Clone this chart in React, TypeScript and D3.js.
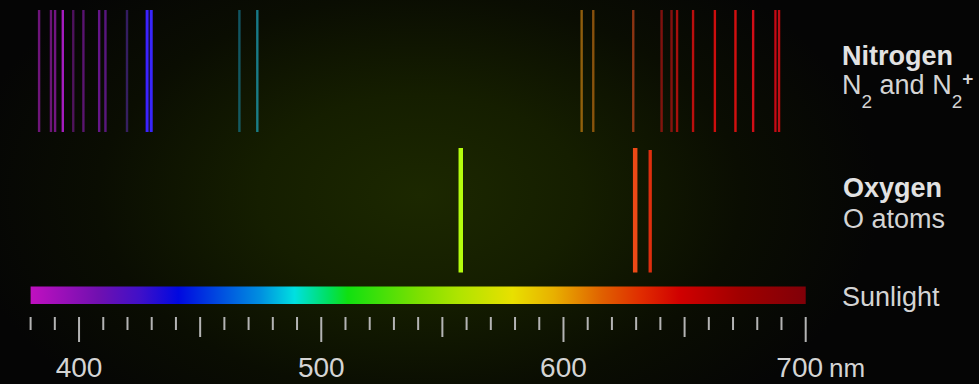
import React from "react";
import * as d3 from "d3";

// ---- data ----
const nitrogenWavelengths = [383.5, 388.4, 390.1, 393.3, 397.6, 401.8, 408.3, 410.9, 419.8, 428.1, 429.8, 466.2, 473.6, 607.5, 612.3, 628.8, 640.5, 644.6, 646.9, 653.5, 662.5, 671.0, 678.3, 687.5, 689.0];
const nitrogenIntensity = [0.6, 0.55, 0.6, 0.85, 0.4, 0.5, 0.65, 0.6, 0.45, 1, 1, 0.55, 0.7, 0.7, 0.65, 0.65, 0.6, 0.6, 0.75, 0.8, 0.85, 0.9, 0.9, 0.85, 0.85];
const oxygenWavelengths = [557.6, 629.6, 635.8];
const oxygenIntensity = [1, 1, 0.6];
const tickValues = d3.range(380, 701, 10);
const tickLabels = [400, 500, 600, 700];
const rowLabels = ["Nitrogen", "Oxygen", "Sunlight"];

// spectrum colour scale (style)
const specStops: [number, string][] = [
  [380, "#c010c0"], [408, "#7010b0"], [425, "#4010c8"], [441, "#0008e0"],
  [463, "#0060e0"], [475, "#0090e0"], [489, "#00e0e0"], [503, "#00e060"],
  [511, "#10e010"], [541, "#80e000"], [557, "#b0e400"], [579, "#e8e000"], [596, "#e8b000"],
  [616, "#e06000"], [632, "#e02c00"], [648, "#d00000"], [673, "#a00000"], [700, "#800008"],
];
// emission-line colour scale (style)
const lineStops: [number, string][] = [
  [380, "#b020c0"], [394, "#c020e0"], [411, "#9020d0"], [420, "#6a30d0"], [428, "#3a20ff"],
  [466, "#1a90b0"], [474, "#20a8c0"], [557, "#b4ff10"], [607, "#c88010"], [629, "#d04a18"],
  [630, "#ff4a10"], [636, "#f03012"], [640, "#d01818"], [660, "#f01010"], [690, "#e00818"],
];

const W = 979;
const H = 384;

export default function App() {
  const x = d3.scaleLinear().domain([380, 700]).range([30.6, 805.7]);
  const lineCol = d3
    .scaleLinear<string>()
    .domain(lineStops.map((d) => d[0]))
    .range(lineStops.map((d) => d[1]))
    .interpolate(d3.interpolateRgb)
    .clamp(true);
  const tickLen = (v: number) => (v % 100 === 0 ? 25 : v % 50 === 0 ? 20 : 13);
  const oxyWidth = d3.scaleLinear().domain([0, 1]).range([1.5, 4.5]);
  const [x0, x1] = x.range();
  const font = "'Liberation Sans', Arial, sans-serif";
  const textCol = "#d4d4d4";

  return (
    <div style={{ position: "fixed", left: 0, top: 0, width: W, height: H, overflow: "hidden" }}>
      <svg width={W} height={H} style={{ display: "block" }}>
        <defs>
          <radialGradient id="glow" gradientUnits="userSpaceOnUse" cx={420} cy={195} r={460}
            gradientTransform="translate(420,195) scale(1,0.62) translate(-420,-195)">
            <stop offset="0" stopColor="#1c2800" />
            <stop offset="0.35" stopColor="#151e00" />
            <stop offset="0.7" stopColor="#0a0d02" />
            <stop offset="1" stopColor="#050505" />
          </radialGradient>
          <linearGradient id="spec" gradientUnits="userSpaceOnUse" x1={x0} x2={x1} y1={0} y2={0}>
            {specStops.map(([w, c]) => (
              <stop key={w} offset={(x(w) - x0) / (x1 - x0)} stopColor={c} />
            ))}
          </linearGradient>
          <filter id="soft" x="-50%" y="-5%" width="200%" height="110%">
            <feGaussianBlur stdDeviation="0.6" />
          </filter>
        </defs>
        <rect x={0} y={0} width={W} height={H} fill="#050505" />
        <rect x={0} y={0} width={W} height={H} fill="url(#glow)" />

        {/* Nitrogen lines */}
        <g filter="url(#soft)">
          {nitrogenWavelengths.map((w, i) => (
            <line key={i} x1={x(w)} x2={x(w)} y1={10} y2={132}
              stroke={lineCol(w)} strokeOpacity={nitrogenIntensity[i]}
              strokeWidth={nitrogenIntensity[i] > 0.95 ? 3 : 2.4} />
          ))}
        </g>

        {/* Oxygen lines */}
        <g filter="url(#soft)">
          {oxygenWavelengths.map((w, i) => (
            <line key={i} x1={x(w)} x2={x(w)} y1={oxygenIntensity[i] < 1 ? 150 : 148} y2={272.5}
              stroke={lineCol(w)}
              strokeOpacity={0.8 + 0.2 * oxygenIntensity[i]}
              strokeWidth={oxyWidth(oxygenIntensity[i])} />
          ))}
        </g>

        {/* Sunlight spectrum bar */}
        <rect x={x0} y={286.5} width={x1 - x0} height={17.5} fill="url(#spec)" />

        {/* ticks */}
        {tickValues.map((v) => (
          <line key={v} x1={x(v)} x2={x(v)} y1={317} y2={317 + tickLen(v)}
            stroke="#b4b4b4" strokeWidth={2} />
        ))}
        {tickLabels.map((v) => (
          <text key={v} x={x(v) - (v === 700 ? 6 : 0)} y={377} fill={textCol} fontFamily={font}
            fontSize={28} textAnchor="middle">{v}</text>
        ))}
        <text x={829} y={377} fill={textCol} fontFamily={font} fontSize={26}>nm</text>

        {/* row labels */}
        <text x={842} y={65} fill="#e2e2e2" fontFamily={font} fontSize={27} fontWeight="bold">{rowLabels[0]}</text>
        <text x={842} y={94} fill={textCol} fontFamily={font} fontSize={27}>
          N<tspan dy={14} fontSize={19}>2</tspan>
          <tspan dy={-14}> and N</tspan>
          <tspan dy={14} fontSize={19}>2</tspan>
          <tspan dy={-23} fontSize={19} fontWeight="bold">+</tspan>
        </text>
        <text x={843} y={197} fill="#e2e2e2" fontFamily={font} fontSize={27} fontWeight="bold">{rowLabels[1]}</text>
        <text x={843} y={228} fill={textCol} fontFamily={font} fontSize={27}>O atoms</text>
        <text x={842} y={306} fill={textCol} fontFamily={font} fontSize={27}>{rowLabels[2]}</text>
      </svg>
    </div>
  );
}
